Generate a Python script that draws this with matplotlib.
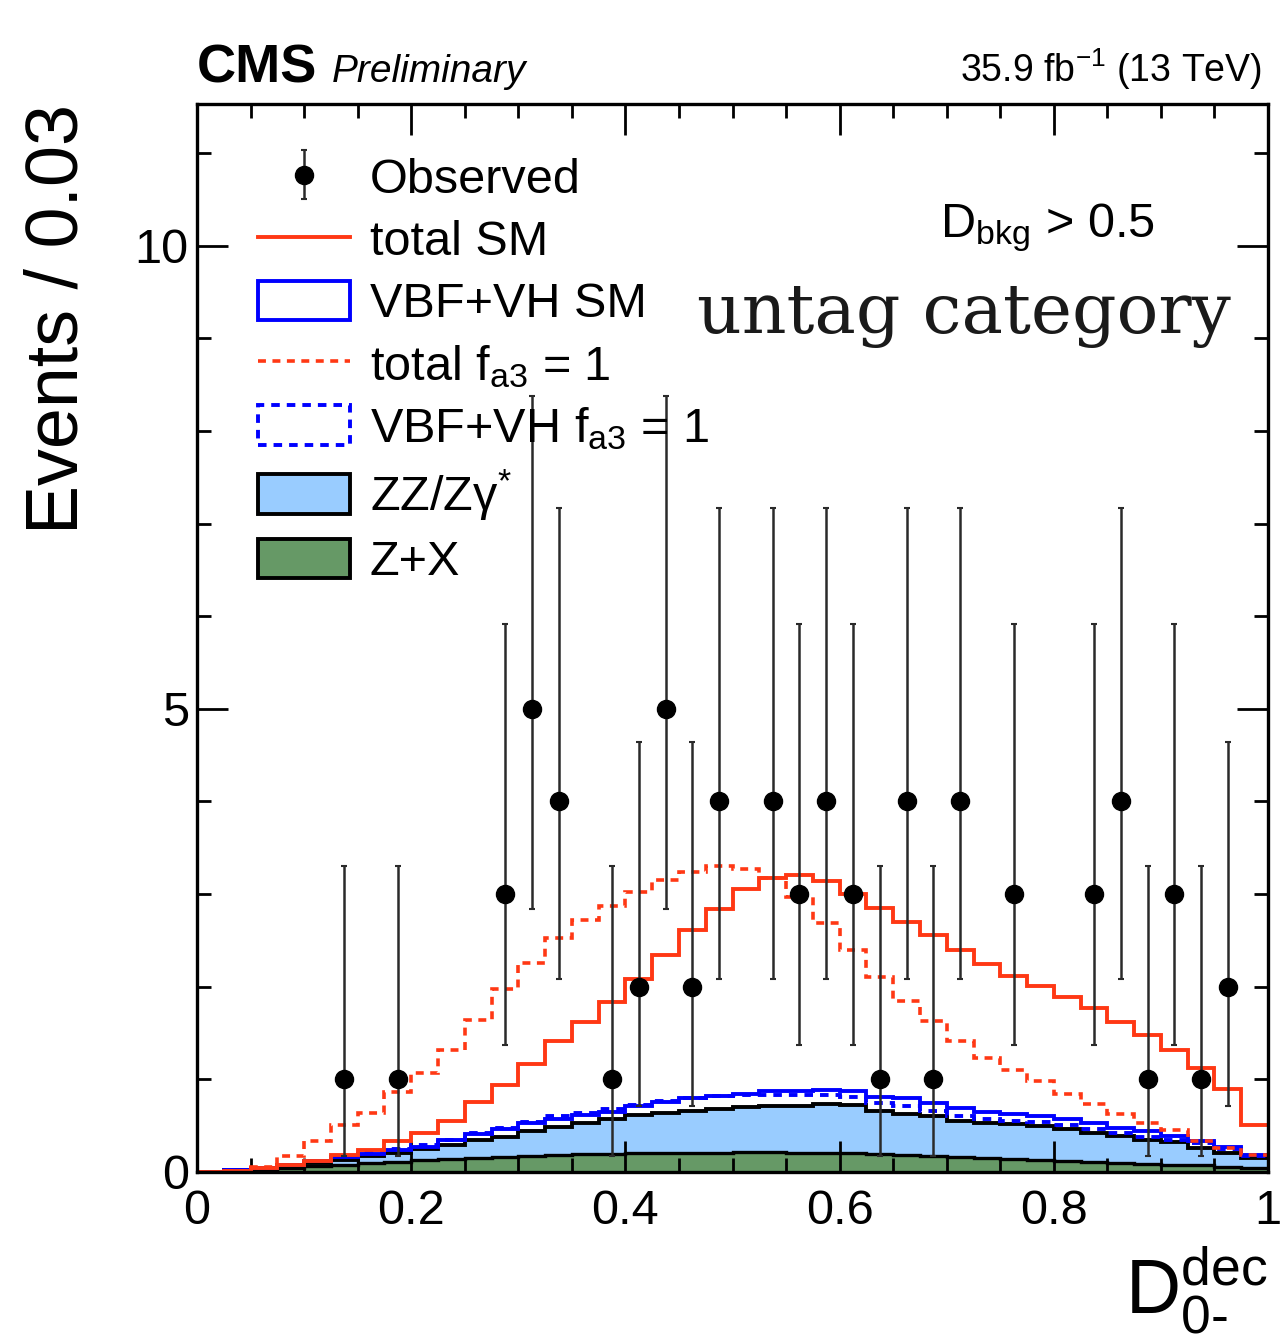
import numpy as np
import matplotlib
matplotlib.use("Agg")
import matplotlib.pyplot as plt
from matplotlib.lines import Line2D
from matplotlib.patches import Patch
from matplotlib.ticker import MultipleLocator, FuncFormatter

plt.rcParams["font.family"] = ["Liberation Sans", "DejaVu Sans"]
plt.rcParams["mathtext.fontset"] = "custom"
plt.rcParams["mathtext.rm"] = "Liberation Sans"
plt.rcParams["mathtext.it"] = "Liberation Sans:italic"
plt.rcParams["mathtext.bf"] = "Liberation Sans:bold"

# 40 bins of width 0.025 in D_0-^dec
bin_edges = np.linspace(0.0, 1.0, 41)

# stacked levels
z_plus_x = [0.00, 0.01, 0.02, 0.04, 0.06, 0.08, 0.10, 0.11, 0.13, 0.14,
            0.15, 0.16, 0.17, 0.18, 0.19, 0.19, 0.20, 0.20, 0.21, 0.21,
            0.22, 0.22, 0.21, 0.21, 0.20, 0.19, 0.18, 0.17, 0.16, 0.15,
            0.14, 0.13, 0.12, 0.11, 0.10, 0.09, 0.08, 0.07, 0.05, 0.04]
zz_stack = [0.00, 0.02, 0.04, 0.07, 0.10, 0.13, 0.17, 0.21, 0.25, 0.29,
            0.34, 0.38, 0.44, 0.49, 0.53, 0.57, 0.62, 0.64, 0.66, 0.68,
            0.70, 0.71, 0.71, 0.73, 0.72, 0.66, 0.63, 0.60, 0.55, 0.53,
            0.52, 0.50, 0.46, 0.42, 0.39, 0.35, 0.32, 0.26, 0.21, 0.15]
vbfvh_sm_stack = [0.00, 0.02, 0.04, 0.08, 0.12, 0.16, 0.19, 0.24, 0.27, 0.34,
                  0.41, 0.46, 0.53, 0.57, 0.62, 0.65, 0.71, 0.76, 0.80, 0.82,
                  0.84, 0.87, 0.87, 0.89, 0.87, 0.81, 0.80, 0.74, 0.69, 0.65,
                  0.63, 0.60, 0.57, 0.53, 0.48, 0.44, 0.39, 0.33, 0.27, 0.18]
vbfvh_fa3_stack = [0.00, 0.02, 0.04, 0.08, 0.12, 0.17, 0.21, 0.25, 0.29, 0.35,
                   0.42, 0.48, 0.54, 0.60, 0.64, 0.68, 0.72, 0.77, 0.80, 0.82,
                   0.83, 0.83, 0.83, 0.83, 0.81, 0.74, 0.71, 0.66, 0.60, 0.57,
                   0.55, 0.54, 0.51, 0.46, 0.42, 0.38, 0.35, 0.31, 0.25, 0.17]
total_sm = [0.00, 0.01, 0.04, 0.08, 0.12, 0.18, 0.24, 0.33, 0.42, 0.55,
            0.75, 0.94, 1.17, 1.41, 1.62, 1.83, 2.08, 2.34, 2.61, 2.84,
            3.05, 3.17, 3.21, 3.14, 3.00, 2.85, 2.70, 2.56, 2.40, 2.25,
            2.12, 2.01, 1.89, 1.77, 1.62, 1.48, 1.32, 1.12, 0.90, 0.51]
total_fa3 = [0.00, 0.01, 0.05, 0.17, 0.33, 0.51, 0.64, 0.86, 1.07, 1.32,
             1.64, 1.97, 2.26, 2.53, 2.72, 2.87, 3.02, 3.15, 3.24, 3.30,
             3.27, 3.17, 2.97, 2.69, 2.40, 2.11, 1.85, 1.63, 1.41, 1.23,
             1.10, 0.98, 0.84, 0.73, 0.63, 0.53, 0.45, 0.33, 0.26, 0.18]

# observed counts per bin
observed = [0, 0, 0, 0, 0, 1, 0, 1, 0, 0,
            0, 3, 5, 4, 0, 1, 2, 5, 2, 4,
            0, 4, 3, 4, 3, 1, 4, 1, 4, 0,
            3, 0, 0, 3, 4, 1, 3, 1, 2, 0]

# 68% Poisson (Garwood) interval for n = 0..5
garwood_lo = [0.0, 0.173, 0.708, 1.367, 2.086, 2.840]
garwood_hi = [1.841, 3.300, 4.638, 5.918, 7.163, 8.382]

RED = "#ff3814"
BLUE = "#0000ff"
LBLUE = "#99ccff"
GREEN = "#669966"
DASH = (0, (2.2, 1.8))

fig = plt.figure(figsize=(12.82, 13.40), dpi=100)
ax = fig.add_axes([0.1537, 0.1254, 0.8354, 0.797])

# backgrounds
ax.stairs(z_plus_x, bin_edges, baseline=0, fill=True, color=GREEN, zorder=1)
ax.stairs(zz_stack, bin_edges, baseline=z_plus_x, fill=True, color=LBLUE, zorder=1)
ax.stairs(z_plus_x, bin_edges, baseline=None, color="k", lw=2.4, zorder=1.5)
ax.stairs(zz_stack, bin_edges, baseline=None, color="k", lw=2.8, zorder=1.5)

# signal expectations
ax.stairs(vbfvh_sm_stack, bin_edges, baseline=None, color=BLUE, lw=2.8, zorder=1.6)
ax.stairs(vbfvh_fa3_stack, bin_edges, baseline=None, color=BLUE, lw=2.8,
          ls=DASH, zorder=1.7)
ax.stairs(total_fa3, bin_edges, baseline=None, color=RED, lw=2.6,
          ls=DASH, zorder=1.8)
ax.stairs(total_sm, bin_edges, baseline=None, color=RED, lw=2.8, zorder=1.9)

# data
obs = np.array(observed)
centers = 0.5 * (bin_edges[:-1] + bin_edges[1:])
mask = obs > 0
lo = obs[mask] - np.array(garwood_lo)[obs[mask]]
hi = np.array(garwood_hi)[obs[mask]] - obs[mask]
data = ax.errorbar(centers[mask], obs[mask], yerr=[lo, hi], fmt="o", color="k",
                   ms=13, ecolor="#2a2a2a", elinewidth=1.8, capsize=2.5,
                   capthick=1.5, zorder=3)

ax.set_xlim(0, 1)
ax.set_ylim(0, 11.53)
ax.xaxis.set_major_locator(MultipleLocator(0.2))
ax.xaxis.set_minor_locator(MultipleLocator(0.05))
ax.yaxis.set_major_locator(MultipleLocator(5))
ax.yaxis.set_minor_locator(MultipleLocator(1))
fmt = FuncFormatter(lambda v, p: "%g" % round(v, 3))
ax.xaxis.set_major_formatter(fmt)
ax.yaxis.set_major_formatter(fmt)
ax.tick_params(which="both", direction="in", top=True, right=True, width=2,
               labelsize=35)
ax.tick_params(which="major", length=22)
ax.tick_params(which="minor", length=10)
ax.tick_params(axis="x", pad=12)
ax.tick_params(axis="y", pad=6)
for s in ax.spines.values():
    s.set_linewidth(2.4)

ax.set_ylabel("Events / 0.03", fontsize=53, loc="top")
ax.yaxis.set_label_coords(-0.098, 1.0)
ax.set_xlabel(r"$\mathregular{D^{dec}_{0\text{-}}}$", fontsize=55, loc="right")
ax.xaxis.set_label_coords(1.0, -0.068)

# header
fig.text(0.1537, 0.9388, "CMS", fontsize=39, fontweight="bold", va="baseline")
fig.text(0.259, 0.9388, "Preliminary", fontsize=28, style="italic", va="baseline")
fig.text(0.9844, 0.9388, r"35.9 fb$^{\mathregular{-1}}$ (13 TeV)", fontsize=27,
         ha="right", va="baseline")

ax.text(0.6937, 0.8755, r"D$_{\mathregular{bkg}}$ > 0.5", fontsize=35,
        transform=ax.transAxes, va="baseline")
ax.text(0.4669, 0.7856, "untag category", fontsize=50, family="DejaVu Serif",
        color="#1a1a1a", transform=ax.transAxes, va="baseline")

handles = [
    data,
    Line2D([], [], color=RED, lw=2.8),
    Patch(facecolor="white", edgecolor=BLUE, lw=2.8),
    Line2D([], [], color=RED, lw=2.6, ls=DASH),
    Patch(facecolor="white", edgecolor=BLUE, lw=2.8, ls=DASH),
    Patch(facecolor=LBLUE, edgecolor="k", lw=2.8),
    Patch(facecolor=GREEN, edgecolor="k", lw=2.8),
]
labels = [
    "Observed",
    "total SM",
    "VBF+VH SM",
    r"total f$_{\mathregular{a3}}$ = 1",
    r"VBF+VH f$_{\mathregular{a3}}$ = 1",
    r"ZZ/Zγ$^{*}$",
    "Z+X",
]
ax.legend(handles, labels, loc="upper left", bbox_to_anchor=(0.057, 0.951),
          frameon=False, fontsize=35, handlelength=1.89, handleheight=0.88,
          handletextpad=0.41, labelspacing=0.32, borderpad=0, borderaxespad=0)

fig.savefig("out.png", dpi=100)
